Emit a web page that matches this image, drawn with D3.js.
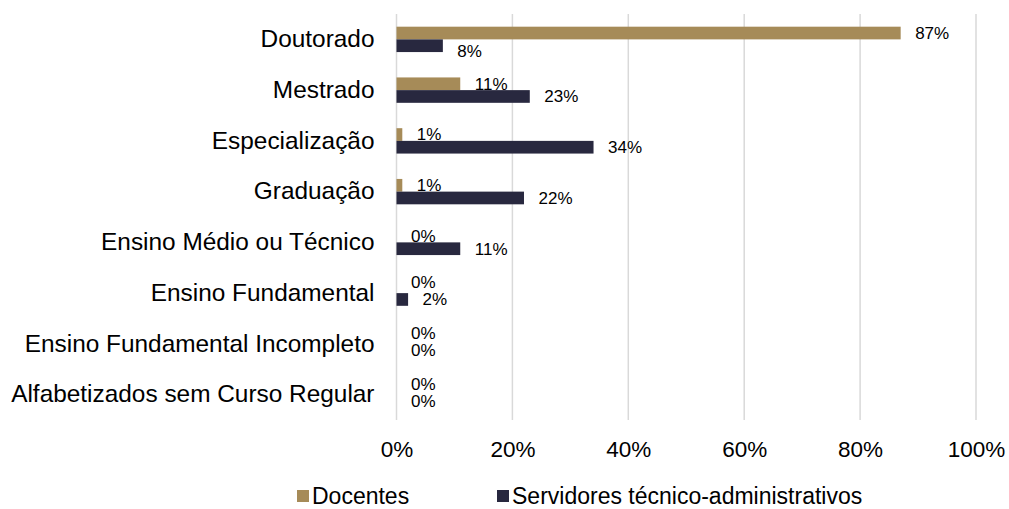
<!DOCTYPE html>
<html>
<head>
<meta charset="utf-8">
<script src="https://cdn.jsdelivr.net/npm/d3@7"></script>
<style>
  html, body { margin: 0; padding: 0; background: #fff; }
  svg { display: block; font-family: Arial, "Liberation Sans", sans-serif; }
</style>
</head>
<body>
<svg id="chart" width="1009" height="509"></svg>
<script>
// Escolaridade: share of each group by highest level of education
const categories = [
  "Doutorado",
  "Mestrado",
  "Especialização",
  "Graduação",
  "Ensino Médio ou Técnico",
  "Ensino Fundamental",
  "Ensino Fundamental Incompleto",
  "Alfabetizados sem Curso Regular"
];
const docentes   = [87, 11, 1, 1, 0, 0, 0, 0];
const servidores = [8, 23, 34, 22, 11, 2, 0, 0];
const seriesNames = ["Docentes", "Servidores técnico-administrativos"];
const tickValues = [0, 20, 40, 60, 80, 100];

const colors = { docentes: "#a68b58", servidores: "#28283f" };

const svg = d3.select("#chart");
const margin = { left: 396.5, right: 33, top: 14, bottom: 89 };
const W = 1009, H = 509;
const FONT = "Arial, 'Liberation Sans', sans-serif";

const x = d3.scaleLinear().domain([0, 100]).range([margin.left, W - margin.right]);
const y = d3.scaleBand().domain(categories)
  .range([margin.top, H - margin.bottom])
  .paddingInner(0.5).paddingOuter(0.25);
const sub = d3.scaleBand().domain(["docentes", "servidores"]).range([0, y.bandwidth()]);

// vertical gridlines
svg.append("g").selectAll("line").data(tickValues).join("line")
  .attr("x1", d => x(d)).attr("x2", d => x(d))
  .attr("y1", margin.top).attr("y2", H - margin.bottom)
  .attr("stroke", "#d9d9d9").attr("stroke-width", 1.5);

// x axis tick labels
const xAxis = d3.axisBottom(x).tickValues(tickValues).tickFormat(d => d + "%").tickSize(0).tickPadding(0);
const gx = svg.append("g").attr("transform", `translate(0,${H - margin.bottom + 21})`).call(xAxis);
gx.select(".domain").remove();
gx.selectAll("text").attr("font-size", 22.5).attr("fill", "#000").attr("font-family", FONT);

// category labels
const yAxis = d3.axisLeft(y).tickSize(0).tickPadding(22);
const gy = svg.append("g").attr("transform", `translate(${margin.left},0)`).call(yAxis);
gy.select(".domain").remove();
gy.selectAll("text").attr("font-size", 24.4).attr("fill", "#000").attr("font-family", FONT);

const rows = categories.map((c, i) => ({ cat: c, docentes: docentes[i], servidores: servidores[i] }));
const keys = ["docentes", "servidores"];
const LABEL_GAP = 14.5, LABEL_SIZE = 17;
const labelWidth = v => (String(v).length * 0.556 + 0.889) * LABEL_SIZE;

// keep the two value labels of a row apart
function labelShift(d, k) {
  const dStart = x(d.docentes) + LABEL_GAP, sStart = x(d.servidores) + LABEL_GAP;
  const overlap = dStart < sStart + labelWidth(d.servidores) && sStart < dStart + labelWidth(d.docentes);
  if (k === "docentes") return overlap ? -4.5 : 0;
  // lower label moves down when the upper bar runs past it
  return x(d.docentes) > sStart ? 5 : 0;
}

keys.forEach(k => {
  svg.append("g").selectAll("rect").data(rows).join("rect")
    .attr("x", x(0))
    .attr("y", d => y(d.cat) + sub(k))
    .attr("width", d => x(d[k]) - x(0))
    .attr("height", sub.bandwidth())
    .attr("fill", colors[k]);

  svg.append("g").selectAll("text").data(rows).join("text")
    .attr("x", d => x(d[k]) + LABEL_GAP)
    .attr("y", d => y(d.cat) + sub(k) + sub.bandwidth() / 2 + labelShift(d, k))
    .attr("dy", "0.35em")
    .attr("font-size", LABEL_SIZE)
    .attr("fill", "#000")
    .text(d => d[k] + "%");
});

// legend
const legend = svg.append("g").attr("transform", "translate(0,496)");
const legendItems = [
  { name: seriesNames[0], color: colors.docentes, x: 297 },
  { name: seriesNames[1], color: colors.servidores, x: 497 }
];
legendItems.forEach(it => {
  legend.append("rect").attr("x", it.x).attr("y", -6).attr("width", 12).attr("height", 12).attr("fill", it.color);
  legend.append("text").attr("x", it.x + 15).attr("y", 0).attr("dy", "0.35em")
    .attr("font-size", 23).attr("fill", "#000").text(it.name);
});
</script>
</body>
</html>
